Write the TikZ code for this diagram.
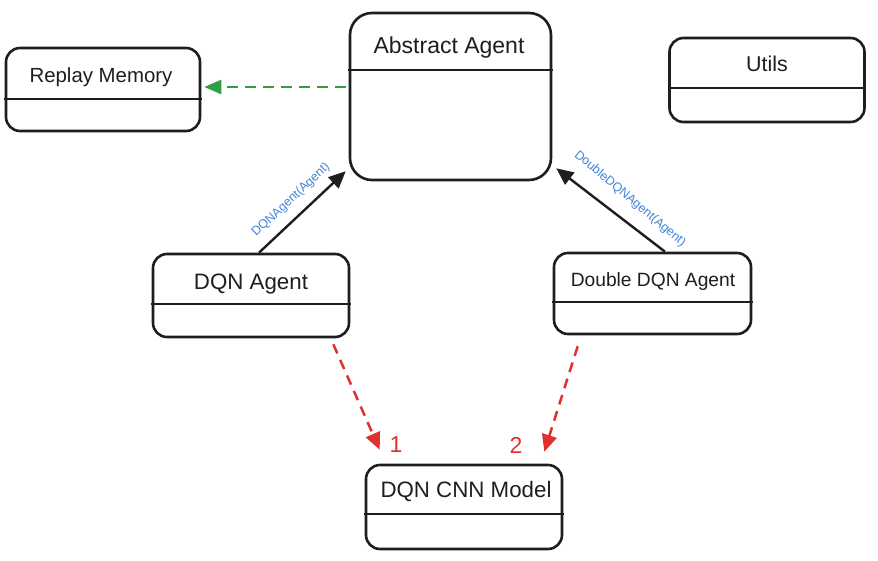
\documentclass[tikz,border=0pt]{standalone}
\usepackage{fontspec}
\setmainfont{Liberation Sans}
\usetikzlibrary{arrows.meta}
\definecolor{exgreen}{RGB}{47,158,68}
\definecolor{exred}{RGB}{224,49,49}
\definecolor{exblue}{RGB}{66,133,214}
\definecolor{ink}{RGB}{30,30,30}
\begin{document}
\begin{tikzpicture}[x=1pt,y=-1pt,
  umlbox/.style={draw=ink, line width=2.6pt, rounded corners=14pt, fill=white, inner sep=0pt},
  divider/.style={draw=ink, line width=2.7pt},
  title/.style={inner sep=0pt, text=ink},
  inherit/.style={draw=ink, line width=2.4pt, -{Triangle[length=17pt,width=15pt]}},
  depgreen/.style={draw=exgreen, line width=2.5pt, dash pattern=on 11pt off 7pt, -{Triangle[length=17pt,width=14pt]}},
  depred/.style={draw=exred, line width=2.5pt, dash pattern=on 10pt off 7pt, -{Triangle[length=17pt,width=15pt]}},
  lbl/.style={text=exblue, font=\fontsize{12.5}{14}\selectfont, inner sep=0pt},
  num/.style={text=exred, font=\fontsize{23}{26}\selectfont, inner sep=0pt}
]
\useasboundingbox (0,0) rectangle (878,561);
\fill[white] (0,0) rectangle (878,561);

% Replay Memory
\node[umlbox, minimum width=194pt, minimum height=83pt] (rm) at (103,89.5) {};
\draw[divider] (4,99) -- (202,99);
\node[title, font=\fontsize{20.4}{24}\selectfont] (rmt) at (101,77) {Replay Memory};

% Abstract Agent
\node[umlbox, rounded corners=22pt, minimum width=201pt, minimum height=167pt] (aa) at (450.5,96.5) {};
\draw[divider] (348,70) -- (553,70);
\node[title, font=\fontsize{23}{27}\selectfont] (aat) at (449,47.5) {Abstract Agent};

% Utils
\node[umlbox, minimum width=195pt, minimum height=84pt] (ut) at (767,80) {};
\draw[divider] (668,88) -- (866,88);
\node[title, font=\fontsize{21.4}{25}\selectfont] (utt) at (767,63.5) {Utils};

% DQN Agent
\node[umlbox, minimum width=196pt, minimum height=83pt] (dqn) at (251,295.5) {};
\draw[divider] (151,304) -- (351,304);
\node[title, font=\fontsize{22.3}{26}\selectfont] (dqnt) at (251,284) {DQN Agent};

% Double DQN Agent
\node[umlbox, minimum width=197pt, minimum height=81pt] (dd) at (652.5,293.5) {};
\draw[divider] (552,302) -- (753,302);
\node[title, font=\fontsize{19.2}{23}\selectfont] (ddt) at (653,282) {Double DQN Agent};

% DQN CNN Model
\node[umlbox, minimum width=196pt, minimum height=84pt] (cnn) at (464,507) {};
\draw[divider] (364,514) -- (564,514);
\node[title, font=\fontsize{22.3}{26}\selectfont] (cnnt) at (466,492) {DQN CNN Model};

% connectors
\draw[depgreen] ([xshift=-3pt,yshift=9.5pt]aa.west) -- ([xshift=3pt,yshift=2.5pt]rm.east);
\draw[inherit] ([xshift=8pt]dqn.north) -- ([xshift=-3pt,yshift=10pt]aa.south west);
\draw[inherit] ([xshift=12.5pt]dd.north) -- ([xshift=4pt,yshift=13pt]aa.south east);
\draw[depred] ([xshift=-17pt,yshift=-6pt]dqn.south east) -- ([xshift=15pt,yshift=14pt]cnn.north west);
\draw[depred] ([xshift=25pt,yshift=-11pt]dd.south west) -- ([xshift=-19pt,yshift=12pt]cnn.north east);

% labels
\node[lbl, rotate=43] (l1) at (291,200) {DQNAgent(Agent)};
\node[lbl, rotate=-40] (l2) at (630,199) {DoubleDQNAgent(Agent)};
\node[num] (n1) at (396,445) {1};
\node[num] (n2) at (516,445) {2};
\end{tikzpicture}
\end{document}
